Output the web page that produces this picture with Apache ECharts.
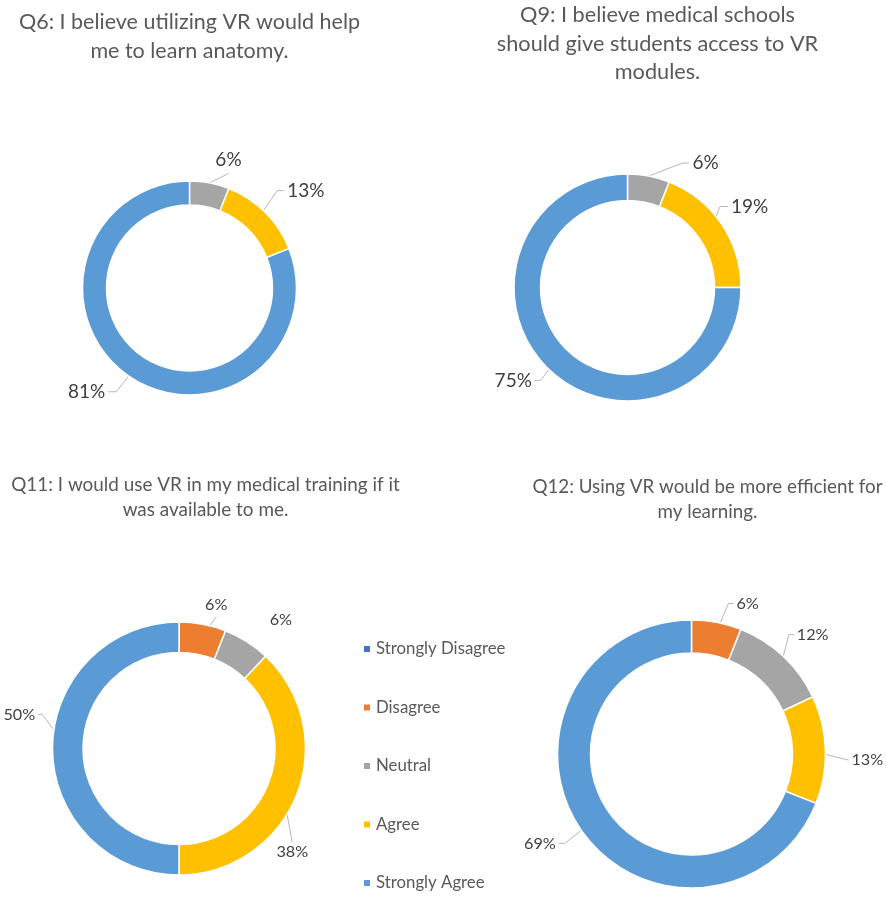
<!DOCTYPE html>
<html>
<head>
<meta charset="UTF-8">
<title>VR survey</title>
<script src="https://cdn.jsdelivr.net/npm/echarts@6/dist/echarts.min.js"></script>
<style>
  html, body { margin: 0; padding: 0; background: #fff; }
  #main { width: 886px; height: 898px; }
</style>
</head>
<body>
<div id="main"></div>
<script>
// answer scale, same order in every question (clockwise from 12 o'clock)
let categories = ['Strongly Disagree', 'Disagree', 'Neutral', 'Agree', 'Strongly Agree'];
let colors = ['#4472C4', '#ED7D31', '#A5A5A5', '#FFC000', '#5B9BD5'];

// percentages
let q6 = [0, 0, 6, 13, 81];
let q9 = [0, 0, 6, 19, 75];
let q11 = [0, 6, 6, 38, 50];
let q12 = [0, 6, 12, 13, 69];

let q6Title = 'Q6: I believe utilizing VR would help\nme to learn anatomy.';
let q9Title = 'Q9: I believe medical schools\nshould give students access to VR\nmodules.';
let q11Title = 'Q11: I would use VR in my medical training if it\nwas available to me.';
let q12Title = 'Q12: Using VR would be more efficient for\nmy learning.';

// label leader tweaks: start on ring middle/outer edge, end radius, turn in degrees, where the text sits, tail
function lbl(start, r, turn, place, tail) {
    return { start: start, r: r, turn: turn, place: place, tail: tail || 0 };
}

let charts = [
    {
        values: q6, title: q6Title, center: [189.5, 288], radius: [83, 107],
        titleX: 189.5, titleTop: 8, titleSize: 21.5, titleLine: 28.5, labelSize: 19,
        labels: [null, null, lbl('outer', 121, 8, 'above'), lbl('mid', 131, -3, 'right', 7), lbl('mid', 127, 1, 'left', 8)]
    },
    {
        values: q9, title: q9Title, center: [627.5, 287.5], radius: [87, 113.5],
        titleX: 657.5, titleTop: 1, titleSize: 21.7, titleLine: 28.5, labelSize: 19,
        labels: [null, null, lbl('outer', 136, 13, 'right', 7), lbl('mid', 123, -7, 'right', 8), lbl('mid', 127, -2, 'left', 6)]
    },
    {
        values: q11, title: q11Title, center: [179, 748.5], radius: [96, 126.5],
        titleX: 205.5, titleTop: 472.5, titleSize: 18.9, titleLine: 25, labelSize: 16.2,
        labels: [null, lbl('mid', 137, 5, 'above'), lbl('mid', 164, 6, 'none'), lbl('mid', 147, 18, 'below'), lbl('mid', 141, 14, 'left', 4)]
    },
    {
        values: q12, title: q12Title, center: [691.5, 754], radius: [101, 134],
        titleX: 707.5, titleTop: 474.5, titleSize: 18.8, titleLine: 25, labelSize: 16.2,
        labels: [null, lbl('mid', 155, 3, 'right', 5), lbl('outer', 154, -4, 'right', 5), lbl('mid', 157, 4, 'right', 0), lbl('mid', 155, -1, 'left', 6)]
    }
];

function placeLabel(c, params) {
    let t = c.labels[params.dataIndex];
    let pts = params.labelLinePoints;
    if (!t || !pts) return {};
    let cx = c.center[0], cy = c.center[1];
    let theta = Math.atan2(pts[0][0] - cx, cy - pts[0][1]);
    let rs = t.start === 'outer' ? c.radius[1] : (c.radius[0] + c.radius[1]) / 2;
    let s = [cx + rs * Math.sin(theta), cy - rs * Math.cos(theta)];
    let a = theta + t.turn * Math.PI / 180;
    let e = [cx + t.r * Math.sin(a), cy - t.r * Math.cos(a)];
    if (t.place === 'right') {
        let h = [e[0] + t.tail, e[1]];
        return { x: h[0] + 3, y: h[1], align: 'left', verticalAlign: 'middle', labelLinePoints: [s, e, h] };
    }
    if (t.place === 'left') {
        let h = [e[0] - t.tail, e[1]];
        return { x: h[0] - 3, y: h[1], align: 'right', verticalAlign: 'middle', labelLinePoints: [s, e, h] };
    }
    if (t.place === 'above') {
        return { x: e[0], y: e[1] - 4, align: 'center', verticalAlign: 'bottom', labelLinePoints: [s, e, e] };
    }
    if (t.place === 'below') {
        return { x: e[0], y: e[1] + 2, align: 'center', verticalAlign: 'top', labelLinePoints: [s, e, e] };
    }
    return { x: e[0], y: e[1], align: 'center', verticalAlign: 'middle', labelLinePoints: [e, e, e] };
}

let myChart = echarts.init(document.getElementById('main'), null, { renderer: 'canvas' });

let titleList = [];
let seriesList = [];
charts.forEach(function (c, k) {
    titleList.push({
        text: c.title,
        left: c.titleX,
        top: c.titleTop,
        padding: 0,
        textAlign: 'center',
        textStyle: {
            fontFamily: 'Lato', fontSize: c.titleSize, fontWeight: 'normal',
            color: '#595959', lineHeight: c.titleLine
        }
    });
    let data = [];
    for (let i = 0; i < categories.length; i++) {
        let hidden = c.values[i] === 0;
        data.push({
            name: categories[i],
            value: c.values[i],
            itemStyle: { color: colors[i] },
            label: { show: !hidden },
            labelLine: { show: !hidden }
        });
    }
    seriesList.push({
        name: 'Q' + k,
        type: 'pie',
        center: c.center,
        radius: c.radius,
        startAngle: 90,
        clockwise: true,
        avoidLabelOverlap: false,
        silent: true,
        itemStyle: { borderColor: '#ffffff', borderWidth: 1.5 },
        label: {
            show: true,
            position: 'outside',
            formatter: '{c}%',
            fontFamily: 'Lato',
            fontSize: c.labelSize,
            color: '#404040'
        },
        labelLine: {
            show: true, length: 20, length2: 6, smooth: false,
            lineStyle: { color: '#a6a6a6', width: 0.8 }
        },
        labelLayout: function (params) { return placeLabel(c, params); },
        data: data
    });
});

myChart.setOption({
    backgroundColor: '#ffffff',
    animation: false,
    title: titleList,
    legend: {
        data: categories,
        orient: 'vertical',
        left: 362,
        top: 639,
        padding: 0,
        itemWidth: 8,
        itemHeight: 8,
        itemGap: 38.5,
        icon: 'rect',
        selectedMode: false,
        textStyle: { fontFamily: 'Lato', fontSize: 16.8, color: '#595959', lineHeight: 20 }
    },
    series: seriesList
});
</script>
</body>
</html>
